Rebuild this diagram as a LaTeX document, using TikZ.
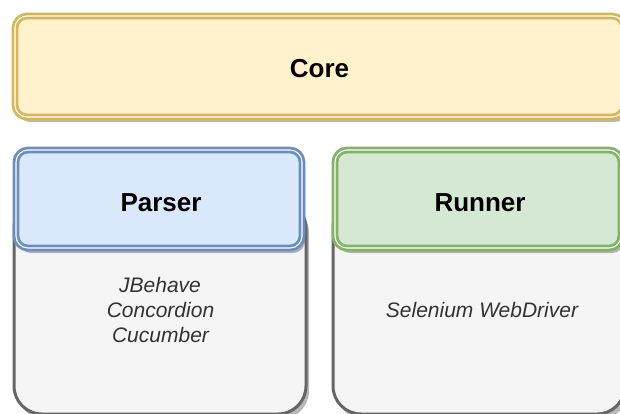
\documentclass[tikz,border=0pt]{standalone}
\usepackage{fontspec}
\setmainfont{Liberation Sans}
\usetikzlibrary{shadows}
\definecolor{coreFill}{HTML}{FFF2CC}
\definecolor{coreLine}{HTML}{D6B656}
\definecolor{blueFill}{HTML}{DAE8FC}
\definecolor{blueLine}{HTML}{6C8EBF}
\definecolor{greenFill}{HTML}{D5E8D4}
\definecolor{greenLine}{HTML}{82B366}
\definecolor{grayFill}{HTML}{F5F5F5}
\definecolor{grayLine}{HTML}{666666}
\definecolor{bodyText}{HTML}{333333}
\tikzset{
  boxshadow/.style={drop shadow={shadow xshift=3pt, shadow yshift=-5pt, opacity=0.28, fill=black}},
  doublebox/.style={rectangle, rounded corners=12pt, line width=2.8pt, double=white, double distance=1.1pt, boxshadow, inner sep=0pt},
  basebox/.style={rectangle, rounded corners=28pt, line width=3pt, draw=grayLine, fill=grayFill, boxshadow, inner sep=0pt},
  titletext/.style={font=\fontsize{26}{30}\selectfont\bfseries, text=black, anchor=base, inner sep=0pt},
  bodytext/.style={font=\fontsize{21}{25}\selectfont\itshape, text=bodyText, anchor=base, inner sep=0pt, align=center}
}
\begin{document}
\begin{tikzpicture}[x=1pt,y=-1pt]
\useasboundingbox (0,0) rectangle (620,413);
\fill[white] (0,0) rectangle (620,413);
\begin{scope}
\clip (0,0) rectangle (620,413);
% core
\node[doublebox, draw=coreLine, fill=coreFill, minimum width=609pt, minimum height=101pt] (core) at (319.5,66.5) {};
% base boxes
\node[basebox, minimum width=292pt, minimum height=214pt] (pbase) at (160,307) {};
\node[basebox, minimum width=292pt, minimum height=214pt] (rbase) at (479,307) {};
% title boxes
\node[doublebox, draw=blueLine, fill=blueFill, minimum width=286pt, minimum height=98pt] (parser) at (159,199) {};
\node[doublebox, draw=greenLine, fill=greenFill, minimum width=286pt, minimum height=98pt] (runner) at (478,199) {};
% texts
\node[titletext] (coretxt) at (319.5,77) {Core};
\node[titletext] (parsertxt) at (161,211.5) {Parser};
\node[titletext] (runnertxt) at (480,211.5) {Runner};
\node[bodytext] (l1) at (160,292) {JBehave};
\node[bodytext] (l2) at (160.5,317) {Concordion};
\node[bodytext] (l3) at (160.5,342) {Cucumber};
\node[bodytext] (sel) at (482,317) {Selenium WebDriver};
\end{scope}
\end{tikzpicture}
\end{document}
